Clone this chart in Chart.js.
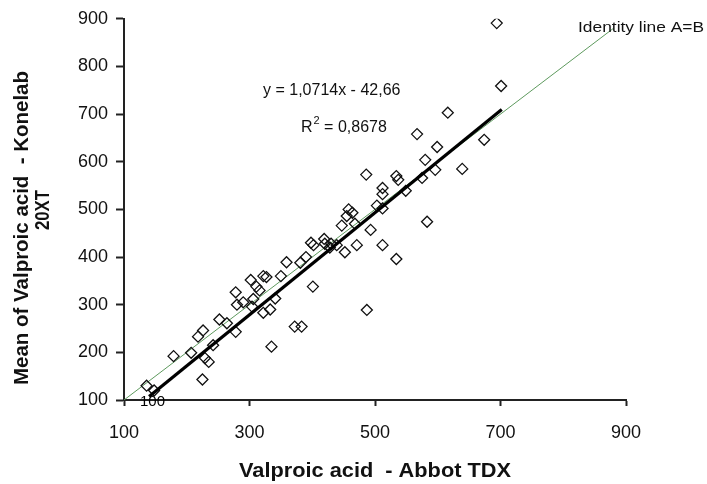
<!DOCTYPE html>
<html>
<head>
<meta charset="utf-8">
<script src="https://cdn.jsdelivr.net/npm/chart.js@4/dist/chart.umd.min.js"></script>
<style>
html,body{margin:0;padding:0;background:#fff;}
#wrap{width:707px;height:484px;}
</style>
</head>
<body>
<div id="wrap"><canvas id="c" width="707" height="484"></canvas></div>
<script>
// Valproic acid - Abbot TDX (x) vs Mean Konelab 20XT (y)
const abbotTDX = [136,179,207,218,226,229,235,225,242,252,264,278,280,278,302,306,304,311,322,327,322,333,341,335,350,359,372,383,381,398,401,402,419,430,439,452,447,455,458,464,471,486,487,493,503,512,512,512,512,534,534,549,537,575,580,583,596,599,567,616,639,674,694,701,148,316,290,428,420,468,390];
const konelab   = [130,192,199,233,246,188,180,143,215,269,261,243,300,326,352,312,296,338,360,358,283,290,313,212,360,389,254,254,388,430,338,425,438,428,425,410,466,486,500,493,425,573,289,457,508,502,425,545,532,396,570,539,562,566,604,474,583,631,658,703,585,646,891,759,120,330,305,420,428,470,400];
const regrX = [140, 702];
const slope = 1.0714, intercept = -42.66;
const identityX = [100, 880];
const xTicks = [100, 300, 500, 700, 900];
const yTicks = [100, 200, 300, 400, 500, 600, 700, 800, 900];

const points = abbotTDX.map((x, i) => ({x: x, y: konelab[i]}));
const regr = regrX.map(x => ({x: x, y: slope * x + intercept}));
const ident = identityX.map(x => ({x: x, y: x}));

const FONT = "'Liberation Sans', Arial, sans-serif";

function stretched(ctx, text, x, y, font, targetW, align, rot) {
  ctx.save();
  ctx.font = font;
  const w = ctx.measureText(text).width;
  const k = targetW / w;
  ctx.translate(x, y);
  if (rot) ctx.rotate(rot);
  ctx.scale(k, 1);
  ctx.textAlign = align;
  ctx.fillText(text, 0, 0);
  ctx.restore();
}

const textPlugin = {
  id: 'texts',
  afterDraw(chart) {
    const ctx = chart.ctx;
    ctx.save();
    ctx.fillStyle = '#111';
    ctx.textBaseline = 'alphabetic';
    // equation
    ctx.font = '16px ' + FONT;
    ctx.textAlign = 'left';
    ctx.fillText('y = 1,0714x - 42,66', 263, 95);
    // R^2
    let x0 = 301;
    ctx.fillText('R', x0, 132);
    let w = ctx.measureText('R').width;
    ctx.font = '11px ' + FONT;
    ctx.fillText('2', x0 + w + 1, 124);
    let w2 = ctx.measureText('2').width;
    ctx.font = '16px ' + FONT;
    ctx.fillText(' = 0,8678', x0 + w + w2 + 1, 132);
    // identity label
    stretched(ctx, 'Identity line A=B', 578, 32, '14px ' + FONT, 126, 'left', 0);
    // stray label near origin
    ctx.fillStyle = '#000';
    stretched(ctx, '100', 140, 406, '15px ' + FONT, 25, 'left', 0);
    ctx.fillStyle = '#111';
    // axis titles
    stretched(ctx, 'Valproic acid  - Abbot TDX', 375, 477, 'bold 20px ' + FONT, 272, 'center', 0);
    stretched(ctx, 'Mean of Valproic acid  - Konelab', 28, 228, 'bold 20px ' + FONT, 314, 'center', -Math.PI / 2);
    stretched(ctx, '20XT', 49, 210, 'bold 20px ' + FONT, 40, 'center', -Math.PI / 2);
    ctx.restore();
  }
};

new Chart(document.getElementById('c'), {
  type: 'scatter',
  data: {
    datasets: [
      {
        label: 'Identity',
        type: 'line',
        data: ident,
        borderColor: '#5e9a5e',
        borderWidth: 1,
        pointRadius: 0,
        fill: false,
        order: 3
      },
      {
        label: 'Data',
        data: points,
        pointStyle: 'rectRot',
        pointRadius: 5.5,
        pointBorderWidth: 1.3,
        pointBorderColor: '#111',
        pointBackgroundColor: 'rgba(255,255,255,0)',
        order: 2
      },
      {
        label: 'Regression',
        type: 'line',
        data: regr,
        borderColor: '#000',
        borderWidth: 3.2,
        pointRadius: 0,
        fill: false,
        order: 1
      }
    ]
  },
  options: {
    responsive: false,
    animation: false,
    events: [],
    layout: { padding: { top: 18, right: 81, left: 0, bottom: 0 } },
    plugins: { legend: { display: false }, tooltip: { enabled: false } },
    scales: {
      x: {
        type: 'linear',
        min: 100, max: 900,
        afterBuildTicks(s) { s.ticks = xTicks.map(v => ({value: v})); },
        afterFit(s) { s.height = 84; },
        border: { display: true, color: '#222', width: 2 },
        grid: { drawOnChartArea: false, drawTicks: true, tickLength: 6, color: '#222', tickWidth: 2 },
        ticks: { color: '#111', font: { family: FONT, size: 18 }, padding: 16 }
      },
      y: {
        type: 'linear',
        min: 100, max: 900,
        afterBuildTicks(s) { s.ticks = yTicks.map(v => ({value: v})); },
        afterFit(s) { s.width = 124; },
        border: { display: true, color: '#222', width: 2 },
        grid: { drawOnChartArea: false, drawTicks: true, tickLength: 8, color: '#222', tickWidth: 2 },
        ticks: { color: '#111', font: { family: FONT, size: 18 }, padding: 8 }
      }
    }
  },
  plugins: [textPlugin]
});
</script>
</body>
</html>
